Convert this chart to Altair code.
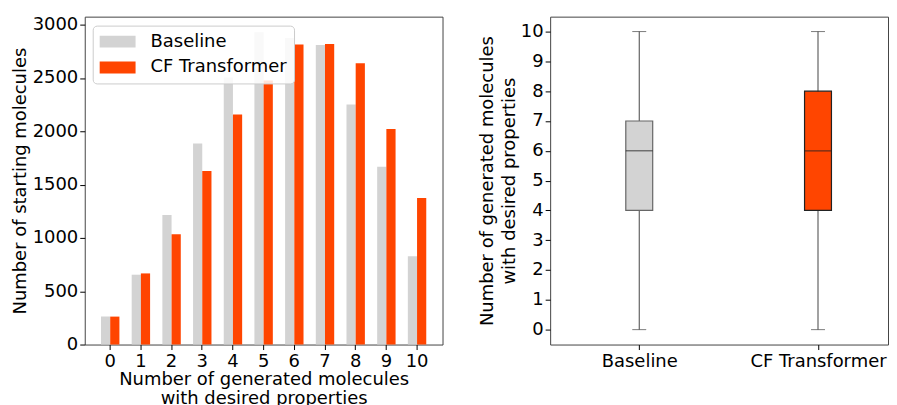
import altair as alt
import pandas as pd

# ---- data ----
counts = list(range(11))
baseline_counts = [262, 655, 1216, 1886, 2504, 2928, 2875, 2810, 2251, 1668, 829]
cf_counts = [262, 667, 1035, 1628, 2158, 2476, 2813, 2819, 2638, 2021, 1375]
series_names = ["Baseline", "CF Transformer"]
series_colors = ["#d3d3d3", "#ff4500"]
box_edge = ["#666666", "#222222"]

box_models = ["Baseline", "CF Transformer"]
box_min = [0, 0]
box_q1 = [4, 4]
box_median = [6, 6]
box_q3 = [7, 8]
box_max = [10, 10]

FONT = "DejaVu Sans"
FS = 18

rows = []
for n, b, c in zip(counts, baseline_counts, cf_counts):
    rows.append({"n": n, "series": series_names[0], "value": b})
    rows.append({"n": n, "series": series_names[1], "value": c})
bar_df = pd.DataFrame(rows)

box_df = pd.DataFrame({
    "model": box_models, "lo": box_min, "q1": box_q1,
    "med": box_median, "q3": box_q3, "hi": box_max, "edge": box_edge,
})

color_scale = alt.Scale(domain=series_names, range=series_colors)

legend = alt.Legend(
    title=None, orient="none", legendX=8, legendY=9,
    fillColor="rgba(255,255,255,0.85)", strokeColor="#cccccc", cornerRadius=4,
    padding=7, labelFontSize=FS, labelFont=FONT, labelColor="#000000",
    symbolType="M-1,-0.66L3,-0.66L3,0.66L-1,0.66Z", symbolSize=324,
    symbolStrokeWidth=0, symbolOpacity=1, labelOffset=33, rowPadding=8,
)

left = alt.Chart(bar_df).mark_bar().encode(
    x=alt.X("n:O", sort=counts,
            scale=alt.Scale(paddingInner=0.4, paddingOuter=0.53),
            axis=alt.Axis(labelAngle=0, titleLineHeight=19, titlePadding=0,
                          title=["Number of generated molecules", "with desired properties"])),
    xOffset=alt.XOffset("series:N", sort=series_names,
                        scale=alt.Scale(paddingInner=0, paddingOuter=0)),
    y=alt.Y("value:Q", scale=alt.Scale(domain=[0, 3075], nice=False, zero=True),
            axis=alt.Axis(values=[0, 500, 1000, 1500, 2000, 2500, 3000], format="d",
                          title="Number of starting molecules", titlePadding=3)),
    color=alt.Color("series:N", scale=color_scale, legend=legend),
).properties(width=359, height=329)

xr = alt.X("model:N", sort=box_models,
           scale=alt.Scale(type="point", padding=0.445, align=0.56),
           axis=alt.Axis(labelAngle=0, title=None))
yr_scale = alt.Scale(domain=[-0.5, 10.5], nice=False, zero=False)
yr_axis = alt.Axis(values=list(range(11)), tickCount=11, labelOverlap=False, format="d",
                   titlePadding=2, titleLineHeight=22,
                   title=["Number of generated molecules", "with desired properties"])

base = alt.Chart(box_df)
whisker = base.mark_rule(color="#444444", strokeWidth=1).encode(
    x=xr, y=alt.Y("lo:Q", scale=yr_scale, axis=yr_axis), y2="hi:Q")
cap_lo = base.mark_tick(color="#444444", thickness=1, size=14).encode(
    x=xr, y=alt.Y("lo:Q", scale=yr_scale))
cap_hi = base.mark_tick(color="#444444", thickness=1, size=14).encode(
    x=xr, y=alt.Y("hi:Q", scale=yr_scale))
box = base.mark_bar(size=27, strokeWidth=1.2).encode(
    x=xr, y=alt.Y("q1:Q", scale=yr_scale), y2="q3:Q",
    color=alt.Color("model:N", scale=color_scale, legend=None),
    stroke=alt.Stroke("edge:N", scale=None),
)
med = base.mark_tick(color="#222222", thickness=1.2, size=27).encode(
    x=xr, y=alt.Y("med:Q", scale=yr_scale))

right = alt.layer(whisker, cap_lo, cap_hi, box, med).properties(width=339, height=329)

chart = alt.hconcat(left, right, spacing=34).resolve_scale(color="independent").properties(
    padding={"left": 2, "top": 6, "right": 0, "bottom": 0}
).configure_view(
    stroke="#444444", strokeWidth=1
).configure_axis(
    labelFont=FONT, titleFont=FONT, labelFontSize=FS, titleFontSize=FS,
    titleFontWeight="normal", labelColor="#000000", titleColor="#000000",
    domain=False, grid=False, tickColor="#000000", tickSize=5, labelPadding=2,
).configure_axisX(labelPadding=3)

chart.save("out.html", embed_options={"renderer": "svg", "actions": False})
